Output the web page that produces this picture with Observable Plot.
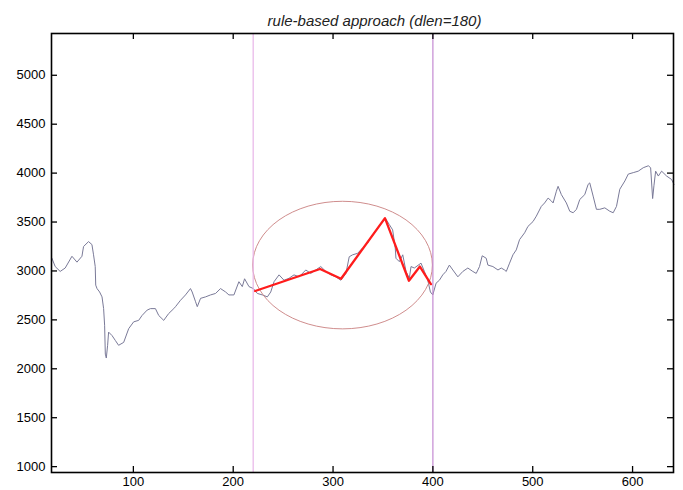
<!DOCTYPE html>
<html><head><meta charset="utf-8">
<script src="https://cdn.jsdelivr.net/npm/d3@7"></script>
<script src="https://cdn.jsdelivr.net/npm/@observablehq/plot@0.6"></script>
<style>
body{margin:0;background:#fff;font-family:"Liberation Sans",Arial,sans-serif}
#chart svg{display:block}
</style>
</head><body><div id="chart"></div>
<script>
const title = "rule-based approach (dlen=180)";
const seriesX = [18.4,21.7,26.7,31.7,38.5,43.5,48.5,50.1,55.1,58.5,60.1,61.8,62.3,63.6,66.2,68.6,70.2,71.2,71.9,72.9,74.2,75.2,78.6,81.9,85.2,90.3,95.3,100.3,105.3,108.7,113.8,117.1,122.1,125.4,130.4,135.4,140.5,142.2,147.2,152.2,157.2,158.9,162.3,164,167.3,172.3,177.3,182.3,187.3,192.4,195.7,200.7,205.7,209.1,211.4,215.8,220.2,224.2,229.2,234.2,237.6,240.9,245.9,250.9,255.9,260.9,266,272.7,277.7,282.7,287.7,292.8,297.8,302.8,307.8,312.9,316.2,319.6,324.6,329.6,334.6,339.7,344.7,349.7,352.3,356.3,359.7,362.3,363,366.4,369.8,373.1,376.4,378.1,381.4,388.1,391.5,394.9,397.5,399.9,403.2,406.5,409.9,413.1,416.5,420,425,430,435,440,443.4,446.7,449.4,453.4,455.1,460.1,465.2,468.5,471.8,473.5,476.8,480.2,483.5,486.8,491.9,495.2,500.3,503.6,508.6,511.9,515.4,518.7,520.4,523.7,525.4,528.7,533.7,537.1,540.5,543.8,547.1,552.1,555.5,557.1,560.5,563.8,567.2,572.2,577.2,580.6,583.9,587.2,592.3,595.7,600.7,605.7,610.7,615.8,618.1,620.1,621.4,623.1,625.8,629.1,634.1,639.1,641.5];
const seriesY = [3130,3045,2995,3030,3150,3090,3150,3250,3300,3270,3165,3045,2855,2820,2785,2735,2615,2445,2150,2110,2240,2375,2340,2290,2240,2270,2410,2480,2495,2545,2600,2615,2615,2545,2495,2565,2615,2635,2700,2755,2820,2785,2685,2635,2720,2735,2755,2770,2820,2785,2755,2755,2890,2840,2920,2840,2820,2770,2755,2735,2785,2890,2960,2905,2925,2960,2940,3010,2975,3010,3045,2995,2960,2940,2905,2975,3145,3165,3180,3235,3285,3370,3440,3505,3540,3475,3420,3235,3130,3095,3165,2995,2925,3045,3030,3080,2995,2905,2785,2755,2875,2905,2960,2995,3060,3010,2940,2995,3030,2995,2975,3045,3155,3130,3060,3045,3010,3030,3010,2995,3080,3165,3215,3320,3390,3455,3505,3560,3660,3695,3745,3715,3695,3815,3865,3780,3695,3610,3595,3630,3730,3780,3885,3900,3765,3630,3630,3645,3610,3595,3660,3835,3920,3990,4005,4020,4055,4075,4055,3740,3870,4020,3970,4020,3970,3935,3885];
const boundaryX = [220, 400];
const boundaryColors = ["#e8b4e8", "#c48ad2"];
const segmentX = [222, 287, 308, 352, 376, 387, 398];
const segmentY = [2795, 3020, 2920, 3540, 2900, 3045, 2865];
const ellipseCenter = [310, 3055];
const ellipseRadius = [90, 652];
const xTicks = [100, 200, 300, 400, 500, 600];
const yTicks = [1000, 1500, 2000, 2500, 3000, 3500, 4000, 4500, 5000];

const W = 683, H = 490, mL = 51, mR = 10, mT = 33, mB = 18, tick = 6;
const innerW = W - mL - mR, innerH = H - mT - mB;

const series = seriesX.map((x, i) => ({x, y: seriesY[i]}));
const segment = segmentX.map((x, i) => ({x, y: segmentY[i]}));
const bounds = boundaryX.map((x, i) => ({x, c: boundaryColors[i]}));

function ellipseMark(index, scales) {
  const cx = scales.x(ellipseCenter[0]), cy = scales.y(ellipseCenter[1]);
  const rx = Math.abs(scales.x(ellipseCenter[0] + ellipseRadius[0]) - cx);
  const ry = Math.abs(scales.y(ellipseCenter[1] + ellipseRadius[1]) - cy);
  const g = d3.create("svg:g");
  g.append("ellipse").attr("cx", cx).attr("cy", cy).attr("rx", rx).attr("ry", ry)
    .attr("fill", "none").attr("stroke", "#c98080").attr("stroke-width", 0.9);
  return g.node();
}

const chart = Plot.plot({
  width: W, height: H,
  marginLeft: mL, marginRight: mR, marginTop: mT, marginBottom: mB,
  style: {fontFamily: "'Liberation Sans', Arial, sans-serif", fontSize: "13px", color: "#000", background: "#fff"},
  x: {domain: [18, 641]},
  y: {domain: [940, 5427]},
  marks: [
    Plot.line(series, {x: "x", y: "y", stroke: "#7a7a98", strokeWidth: 1}),
    ellipseMark,
    Plot.ruleX(bounds, {x: "x", stroke: "c", strokeWidth: 1.2}),
    Plot.line(segment, {x: "x", y: "y", stroke: "#ff1c1c", strokeWidth: 2.3}),
    Plot.ruleX(xTicks, {x: d => d, stroke: "#000", strokeWidth: 1.3, insetTop: innerH - tick}),
    Plot.ruleX(xTicks, {x: d => d, stroke: "#000", strokeWidth: 1.3, insetBottom: innerH - tick}),
    Plot.ruleY(yTicks, {y: d => d, stroke: "#000", strokeWidth: 1.3, insetRight: innerW - tick}),
    Plot.ruleY(yTicks, {y: d => d, stroke: "#000", strokeWidth: 1.3, insetLeft: innerW - tick}),
    Plot.frame({stroke: "#000", strokeWidth: 1.6}),
    Plot.axisX(xTicks, {anchor: "bottom", tickSize: 0, tickPadding: 4, label: null, fontSize: 13, tickFormat: d3.format("d")}),
    Plot.axisY(yTicks, {anchor: "left", tickSize: 0, tickPadding: 6, label: null, fontSize: 13, tickFormat: d3.format("d")}),
    Plot.text([title], {frameAnchor: "top", dy: -18, text: d => d, fontSize: 15, fontStyle: "italic", fill: "#222", dx: 12})
  ]
});
document.getElementById("chart").appendChild(chart);
</script>
</body></html>
